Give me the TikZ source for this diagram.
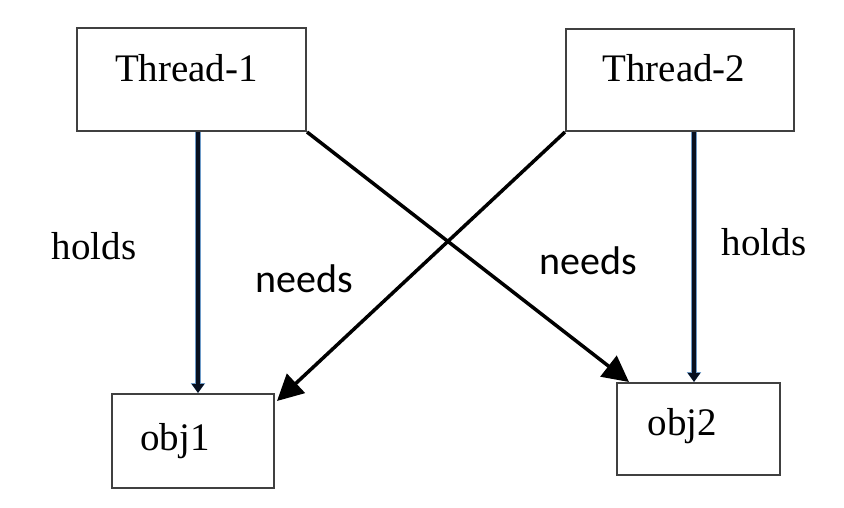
\documentclass[tikz,border=0pt]{standalone}
\usepackage{fontspec}
\setmainfont{Liberation Serif}
\newfontfamily\calfont{Carlito}
\usetikzlibrary{arrows.meta}
\definecolor{boxline}{RGB}{64,64,64}
\definecolor{holdline}{RGB}{8,16,32}
\definecolor{holdglow}{RGB}{110,155,200}
\begin{document}
\begin{tikzpicture}[x=1pt,y=-1pt,line width=2pt,
  every node/.style={inner sep=0pt,font=\fontsize{39}{47}\selectfont},
  box/.style={draw=boxline,rectangle},
  holdarrow/.style={draw=holdline,line width=4.5pt,-{Triangle[length=9pt,width=12pt]},
    preaction={draw=holdglow,line width=6.5pt,-{Triangle[length=10pt,width=14pt]}}},
  needarrow/.style={draw=black,line width=3.5pt,-{Triangle[length=26pt,width=26pt]}}]
\useasboundingbox (0,0) rectangle (844,508);
% boxes
\node[box,minimum width=229pt,minimum height=103pt] (t1) at (191.5,79.5) {};
\node[box,minimum width=228pt,minimum height=102pt] (t2) at (680,80) {};
\node[box,minimum width=162pt,minimum height=94pt] (o1) at (193,441) {};
\node[box,minimum width=163pt,minimum height=92pt] (o2) at (698.5,429) {};
\node[anchor=base] (t1txt) at (186.5,82) {Thread-1};
\node[anchor=base] (t2txt) at (674,82) {Thread-2};
\node[anchor=base] (o1txt) at (175,450) {obj1};
\node[anchor=base] (o2txt) at (682.5,435) {obj2};
% arrows
\draw[holdarrow] ([xshift=6.5pt]t1.south) -- ([xshift=5pt]o1.north);
\draw[holdarrow] ([xshift=14pt]t2.south) -- ([xshift=-4.5pt]o2.north);
\draw[needarrow] (t1.south east) -- ([xshift=13pt]o2.north west);
\draw[needarrow] (t2.south west) -- ([xshift=2pt,yshift=-8pt]o1.north east);
\node[anchor=base] (hold1) at (94,259) {holds};
\node[anchor=base] (hold2) at (764,255) {holds};
\node[anchor=base,font=\calfont\fontsize{40}{48}\selectfont] (need1) at (304,292) {needs};
\node[anchor=base,font=\calfont\fontsize{40}{48}\selectfont] (need2) at (588,274) {needs};
\end{tikzpicture}
\end{document}
